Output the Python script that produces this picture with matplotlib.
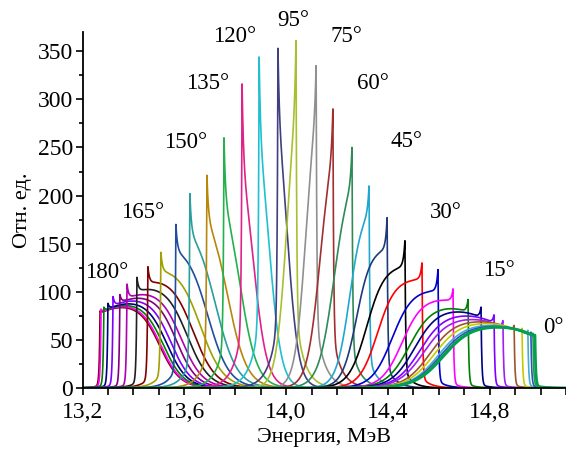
import numpy as np
import matplotlib.pyplot as plt
from matplotlib.ticker import MultipleLocator, FuncFormatter

plt.rcParams["font.family"] = ["Liberation Serif", "DejaVu Serif"]

# one spectrum per emission angle, 180 deg ... 0 deg
angles = [180, 175, 170, 165, 160, 155, 150, 145, 140, 135, 130, 125, 120,
          115, 110, 105, 100, 95, 90, 85, 80, 75, 70, 65, 60, 55, 50, 45,
          40, 35, 30, 25, 20, 15, 10, 5, 0]
# position of the sharp edge, MeV
edge_mev = [13.269, 13.273, 13.284, 13.300, 13.320, 13.347, 13.375, 13.414,
            13.457, 13.508, 13.567, 13.622, 13.689, 13.756, 13.827, 13.894,
            13.968, 14.039, 14.118, 14.184, 14.259, 14.326, 14.397, 14.467,
            14.534, 14.597, 14.656, 14.715, 14.766, 14.817, 14.852, 14.896,
            14.927, 14.950, 14.962, 14.970, 14.978]
# height of the spike at the edge
spike = [80, 82, 84, 88, 95, 97, 108, 115, 126, 141, 170, 202, 221, 260, 316,
         344, 353, 361, 335, 290, 250, 210, 177, 153, 130, 123, 103, 92, 84,
         76, 70, 65, 62, 60, 58, 57, 55]
# level of the broad part, its half-width from the edge and softness (MeV)
broad = [89, 90, 91, 93, 96, 99, 104, 110, 118, 130, 152, 175, 195, 225, 275,
         305, 325, 335, 320, 270, 230, 190, 146, 128, 114, 104, 95, 88, 84,
         79, 75, 72, 70, 68, 67, 66, 66]
width = [0.234, 0.234, 0.233, 0.231, 0.227, 0.222, 0.212, 0.197, 0.178, 0.155,
         0.125, 0.100, 0.080, 0.060, 0.042, 0.038, 0.036, 0.036, 0.040, 0.050,
         0.070, 0.076, 0.120, 0.150, 0.175, 0.180, 0.200, 0.230, 0.260, 0.290,
         0.310, 0.330, 0.345, 0.352, 0.356, 0.358, 0.360]
soft = [0.040, 0.040, 0.040, 0.040, 0.040, 0.040, 0.042, 0.043, 0.044, 0.045,
        0.042, 0.042, 0.038, 0.034, 0.027, 0.024, 0.022, 0.021, 0.021, 0.025,
        0.030, 0.026, 0.028, 0.035, 0.035, 0.040, 0.040, 0.045, 0.046, 0.048,
        0.050, 0.050, 0.052, 0.053, 0.054, 0.055, 0.055]
# dip of the broad part next to the edge (fraction)
dip = [0.13, 0.13, 0.12, 0.12, 0.11, 0.10, 0.10, 0.08, 0.06, 0.04, 0.02, 0, 0,
       0, 0, 0, 0, 0, 0, 0, 0, 0, 0, 0, 0, 0.02, 0.04, 0.10, 0.13, 0.15, 0.17,
       0.18, 0.19, 0.20, 0.20, 0.20, 0.20]
# share of the low tail beyond the sharp edge
edge_tail = [0.03, 0.03, 0.03, 0.03, 0.03, 0.03, 0.03, 0.05, 0.07, 0.10, 0.12,
             0.14, 0.16, 0.18, 0.20, 0.20, 0.20, 0.20, 0.20, 0.18, 0.16, 0.14,
             0.12, 0.10, 0.08, 0.06, 0.04, 0.04, 0.04, 0.04, 0.04, 0.04, 0.04,
             0.04, 0.04, 0.04, 0.04]
colors = ["#800000", "#FF00FF", "#008000", "#000080", "#8000FF", "#800080",
          "#B000B0", "#202020", "#800000", "#A0A000", "#1F4E9E", "#2A9D9D",
          "#B8860B", "#22B14C", "#E0218A", "#20C0D0", "#404080", "#A8C030",
          "#909090", "#A03030", "#2E8B57", "#1EA8D0", "#1E3A7A", "#000000",
          "#FF0000", "#0000CC", "#FF00FF", "#008000", "#000080", "#8000FF",
          "#A020F0", "#A0522D", "#C8C800", "#40B0D0", "#3050C0", "#20A040",
          "#00A050"]

label_angles = [180, 165, 150, 135, 120, 95, 75, 60, 45, 30, 15, 0]
label_x = [13.296, 13.438, 13.607, 13.693, 13.799, 14.027, 14.239, 14.341,
           14.475, 14.628, 14.836, 15.049]
label_y = [120, 182, 255, 316, 365, 382, 365, 316, 256, 182, 122, 63]


def spectrum(E, e, side, S, A, W, w, r, f):
    d = side * (E - e)               # > 0 inside the spectrum
    din = np.clip(d, 0, None)
    dout = np.minimum(d, 0)
    b = A * (1 - r * np.exp(-din / 0.07)) / (1 + np.exp((din - W) / w))
    b0 = A * (1 - r) / (1 + np.exp(-W / w))
    y_in = b + (S - b0) * np.exp(-din / 0.006)
    y_out = S * ((1 - f) * np.exp(dout / 0.003) + f * np.exp(dout / 0.035))
    return np.where(d >= 0, y_in, y_out)


fig = plt.figure(figsize=(5.66, 4.58), dpi=100)
ax = fig.add_axes([82.5 / 566, 70 / 458, 1 - 82.5 / 566, 356 / 458])

E = np.linspace(13.2, 15.1, 3801)
for i, ang in enumerate(angles):
    side = 1 if ang >= 100 else -1
    y = spectrum(E, edge_mev[i], side, spike[i], broad[i], width[i],
                 soft[i], dip[i], edge_tail[i])
    ax.plot(E, y, color=colors[i], lw=2.0 if ang == 0 else 1.2)

for ang, x, yv in zip(label_angles, label_x, label_y):
    ax.text(x, yv, f"{ang}°", ha="center", va="center", fontsize=16.5)

ax.set_xlim(13.2, 15.1)
ax.set_ylim(0, 370)
ax.xaxis.set_major_locator(MultipleLocator(0.4))
ax.xaxis.set_minor_locator(MultipleLocator(0.1))
ax.yaxis.set_major_locator(MultipleLocator(50))
ax.yaxis.set_minor_locator(MultipleLocator(25))
ax.xaxis.set_major_formatter(FuncFormatter(lambda v, p: f"{v:.1f}".replace(".", ",")))
ax.tick_params(which="major", length=5, width=1.2, labelsize=17, pad=2)
ax.tick_params(axis="x", which="major", pad=5)
ax.tick_params(which="minor", length=5, width=1.2)
ax.tick_params(axis="y", which="minor", length=3)
for s in ["top", "right"]:
    ax.spines[s].set_visible(False)
for s in ["left", "bottom"]:
    ax.spines[s].set_linewidth(1.3)
ax.set_xlabel("Энергия, МэВ", fontsize=16, labelpad=4)
ax.set_ylabel("Отн. ед.", fontsize=16, labelpad=4)

fig.savefig("out.png", dpi=100, facecolor="white")
